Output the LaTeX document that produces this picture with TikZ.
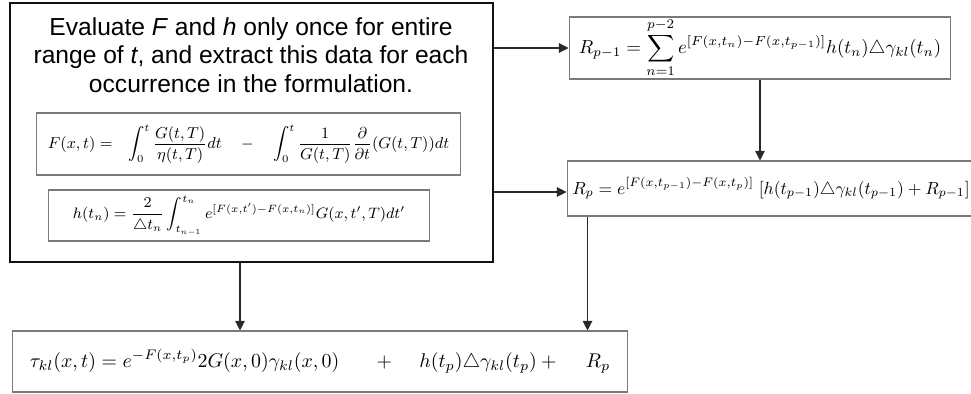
\RequirePackage{fix-cm}
\documentclass[tikz,border=0pt]{standalone}
\usepackage{amsmath,amssymb}
\usepackage{fontspec}
\newfontfamily\headfont{Liberation Sans}
\usepackage{tikz}
\usetikzlibrary{arrows.meta,calc,positioning}
\usepackage{xcolor}
\definecolor{ink}{HTML}{111111}
\definecolor{frame}{HTML}{7A7A7A}
\newcommand{\fsz}[1]{\fontsize{#1}{1.2\dimexpr#1pt\relax}\selectfont}
\tikzset{outerbox/.style={draw=ink,line width=1.4pt,inner sep=0pt},formbox/.style={draw=frame,line width=.6pt,inner sep=0pt,font=\fsz{10}},headtext/.style={font=\headfont\fontsize{14}{16.2}\selectfont,align=center},linkarrow/.style={draw=ink!90,line width=.6pt,-{Triangle[length=5.5pt,width=5.5pt]}}}

\begin{document}
\begin{tikzpicture}[x=.02cm,y=-.02cm]
\useasboundingbox (0,0) rectangle (971,394);
\clip (0,0) rectangle (971,394);
\node[outerbox,minimum width=9.66cm,minimum height=5.18cm] (plan) at (251.5,132.5) {};
\node[headtext] (head) at (251,55) {Evaluate \textit{F} and \textit{h} only once for entire\\range of \textit{t}, and extract this data for each\\occurrence in the formulation.};
\node[formbox,font=\fsz{9},minimum width=8.5cm,minimum height=1.24cm] (Fdef) at (248.5,144) {$\displaystyle F(x,t) = \hskip.7em \int_0^t \frac{G(t,T)}{\eta(t,T)}dt \quad - \quad \int_0^t \frac{1}{G(t,T)}\frac{\partial}{\partial t}(G(t,T))dt$};
\node[formbox,font=\fsz{8.6},minimum width=7.64cm,minimum height=1.02cm] (hdef) at (239,215.5) {$\displaystyle h(t_n) = \frac{2}{\triangle t_n}\int_{t_{n-1}}^{t_n} e^{[F(x,t')-F(x,t_n)]}G(x,t',T)dt'$\hskip.25cm};
\node[formbox,font=\fsz{10.75},minimum width=7.64cm,minimum height=1.24cm] (Rprev) at (760,48) {$\displaystyle R_{p-1} = \sum_{n=1}^{p-2} e^{[F(x,t_n)-F(x,t_{p-1})]}h(t_n)\triangle\gamma_{kl}(t_n)$};
\node[formbox,minimum width=8.16cm,minimum height=1.1cm] (Rcur) at (771,188.5) {$\displaystyle R_p = e^{[F(x,t_{p-1})-F(x,t_p)]}\;[h(t_{p-1})\triangle\gamma_{kl}(t_{p-1})+R_{p-1}]$};
\node[formbox,font=\fsz{11.3},minimum width=12.32cm,minimum height=1.22cm] (tau) at (320,361.5) {$\displaystyle \tau_{kl}(x,t) = e^{-F(x,t_p)}2G(x,0)\gamma_{kl}(x,0) \hskip1.66em + \hskip1.15em h(t_p)\triangle\gamma_{kl}(t_p) + \hskip1.25em R_p$};
\draw[linkarrow] (plan.east |- Rprev.west) -- (Rprev.west);
\draw[linkarrow] ([yshift=-.07cm]plan.east |- Rcur.west) -- ([yshift=-.07cm]Rcur.west);
\draw[linkarrow] (Rprev.south) -- (Rprev.south |- Rcur.north);
\draw[linkarrow] ([xshift=-.23cm]plan.south) -- ([xshift=-.23cm]plan.south |- tau.north);
\draw[linkarrow] ([xshift=.42cm]Rcur.south west) -- ([xshift=.42cm]Rcur.south west |- tau.north);
\end{tikzpicture}
\end{document}
